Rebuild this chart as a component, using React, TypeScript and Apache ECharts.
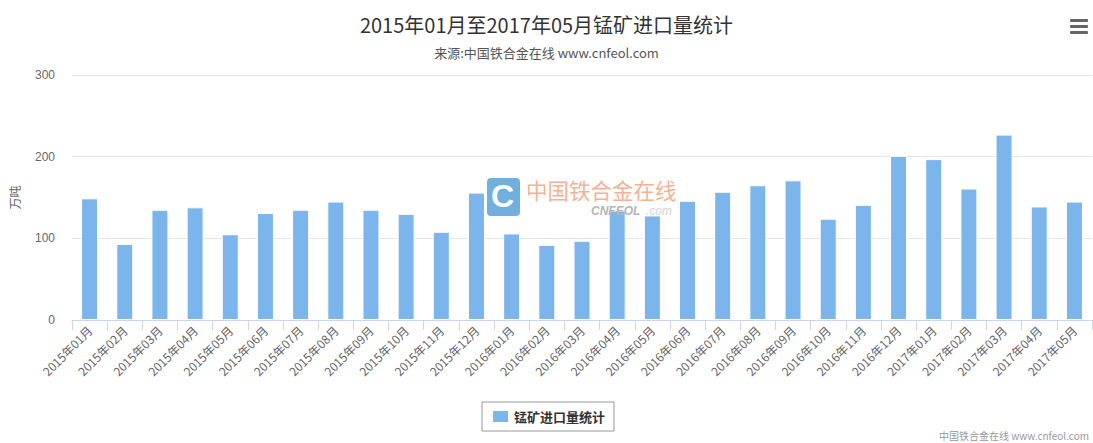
import React, { useEffect, useRef } from "react";
import * as echarts from "echarts";

const months: string[] = [
  "2015年01月", "2015年02月", "2015年03月", "2015年04月", "2015年05月", "2015年06月",
  "2015年07月", "2015年08月", "2015年09月", "2015年10月", "2015年11月", "2015年12月",
  "2016年01月", "2016年02月", "2016年03月", "2016年04月", "2016年05月", "2016年06月",
  "2016年07月", "2016年08月", "2016年09月", "2016年10月", "2016年11月", "2016年12月",
  "2017年01月", "2017年02月", "2017年03月", "2017年04月", "2017年05月",
];

const imports: number[] = [
  149, 93, 135, 138, 105, 131, 135, 145, 135, 130, 108, 156,
  106, 92, 97, 134, 128, 146, 157, 165, 171, 124, 141, 201,
  197, 161, 227, 139, 145,
];

const seriesName = "锰矿进口量统计";
const titleText = "2015年01月至2017年05月锰矿进口量统计";
const subtitleText = "来源:中国铁合金在线 www.cnfeol.com";
const creditsText = "中国铁合金在线 www.cnfeol.com";
const yAxisName = "万吨";

const CJK = '"Noto Sans CJK SC", "Microsoft YaHei", sans-serif';
const LATIN = '"Liberation Sans", Arial, sans-serif';

export default function App() {
  const ref = useRef<HTMLDivElement>(null);

  useEffect(() => {
    if (!ref.current) return;
    const chart = echarts.init(ref.current, undefined, { renderer: "svg" });
    chart.setOption({
      animation: false,
      backgroundColor: "#ffffff",
      title: [
        {
          text: titleText,
          left: "center",
          top: 9,
          textStyle: { fontSize: 20, fontWeight: "normal", color: "#333333", fontFamily: CJK },
        },
        {
          text: subtitleText,
          left: "center",
          top: 41,
          textStyle: { fontSize: 13, fontWeight: "normal", color: "#555555", fontFamily: CJK },
        },
      ],
      legend: {
        data: [seriesName],
        left: 482,
        top: 402,
        padding: [7, 9, 7, 9],
        borderColor: "#999999",
        borderWidth: 1,
        borderRadius: 0,
        icon: "rect",
        itemWidth: 17,
        itemHeight: 13,
        itemGap: 5,
        textStyle: { fontSize: 13, fontWeight: "bold", color: "#333333", fontFamily: CJK },
      },
      grid: { left: 71, right: 1, top: 75, bottom: 123, containLabel: false },
      xAxis: {
        type: "category",
        data: months,
        boundaryGap: true,
        axisLine: { show: true, lineStyle: { color: "#ccd6eb", width: 1 } },
        axisTick: { show: true, alignWithLabel: false, length: 10, lineStyle: { color: "#ccd6eb" } },
        axisLabel: {
          rotate: 45,
          interval: 0,
          margin: 8,
          fontSize: 12,
          color: "#666666",
          fontFamily: CJK,
        },
      },
      yAxis: {
        type: "value",
        min: 0,
        max: 300,
        interval: 100,
        name: yAxisName,
        nameLocation: "middle",
        nameGap: 52,
        nameRotate: 90,
        nameTextStyle: { fontSize: 12, color: "#666666", fontFamily: CJK },
        axisLine: { show: false },
        axisTick: { show: false },
        axisLabel: { fontSize: 12, color: "#666666", margin: 17, fontFamily: LATIN },
        splitLine: { lineStyle: { color: "#e6e6e6", width: 1 } },
      },
      series: [
        {
          name: seriesName,
          type: "bar",
          data: imports,
          barWidth: 17,
          itemStyle: { color: "#7cb5ec", borderColor: "#ffffff", borderWidth: 1 },
        },
      ],
      graphic: [
        // watermark logo
        {
          type: "rect",
          left: 487,
          top: 178,
          shape: { width: 33, height: 38, r: 4 },
          style: { fill: "#5fa7db", opacity: 0.9 },
          z: 100,
        },
        {
          type: "text",
          left: 491,
          top: 180,
          style: {
            text: "C",
            fill: "#ffffff",
            font: 'bold 32px "Liberation Sans", Arial, sans-serif',
          },
          z: 101,
        },
        {
          type: "text",
          left: 526,
          top: 179,
          style: {
            text: "中国铁合金在线",
            fill: "#f4a27c",
            opacity: 0.85,
            font: '21.5px "Noto Sans CJK SC", sans-serif',
          },
          z: 100,
        },
        {
          type: "text",
          left: 591,
          top: 205,
          style: {
            text: "CNFEOL",
            fill: "#b5b5b5",
            font: 'italic bold 12px "Liberation Sans", Arial, sans-serif',
          },
          z: 100,
        },
        {
          type: "text",
          left: 646,
          top: 205,
          style: {
            text: ".com",
            fill: "#d5d5d5",
            font: 'italic 12px "Liberation Sans", Arial, sans-serif',
          },
          z: 100,
        },
        // hamburger menu
        { type: "rect", left: 1070, top: 19, shape: { width: 18, height: 3, r: 1 }, style: { fill: "#666666" } },
        { type: "rect", left: 1070, top: 25, shape: { width: 18, height: 3, r: 1 }, style: { fill: "#666666" } },
        { type: "rect", left: 1070, top: 31, shape: { width: 18, height: 3, r: 1 }, style: { fill: "#666666" } },
        // credits
        {
          type: "text",
          right: 4,
          top: 430,
          style: {
            text: creditsText,
            fill: "#999999",
            font: '10px "Noto Sans CJK SC", sans-serif',
          },
        },
      ],
    });
    return () => chart.dispose();
  }, []);

  return (
    <div
      ref={ref}
      style={{ position: "absolute", left: 0, top: 0, width: 1093, height: 443 }}
    />
  );
}
